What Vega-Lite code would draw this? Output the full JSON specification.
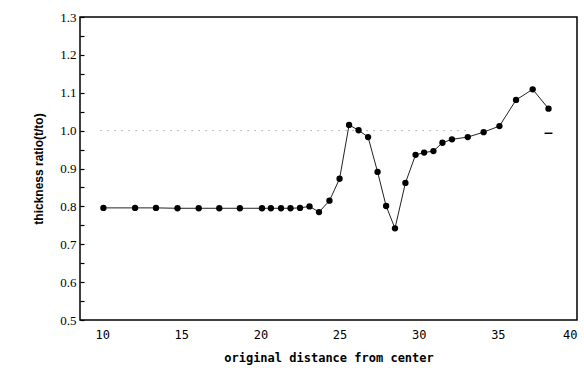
{
  "$schema": "https://vega.github.io/schema/vega-lite/v6.json",
  "width": 497,
  "height": 303,
  "autosize": {"type": "none"},
  "padding": {"left": 80, "top": 17, "right": 7, "bottom": 55},
  "background": "white",
  "config": {"view": {"stroke": "black", "strokeWidth": 1.5}},
  "datasets": {
    "pts": [
      {"x": 10.08, "y": 0.796}, {"x": 12.08, "y": 0.796}, {"x": 13.4, "y": 0.796}, {"x": 14.76, "y": 0.795},
      {"x": 16.1, "y": 0.795}, {"x": 17.4, "y": 0.795}, {"x": 18.7, "y": 0.795}, {"x": 20.1, "y": 0.795},
      {"x": 20.66, "y": 0.795}, {"x": 21.3, "y": 0.795}, {"x": 21.9, "y": 0.795}, {"x": 22.5, "y": 0.796},
      {"x": 23.1, "y": 0.80}, {"x": 23.7, "y": 0.785}, {"x": 24.36, "y": 0.815}, {"x": 25.0, "y": 0.873},
      {"x": 25.6, "y": 1.015}, {"x": 26.2, "y": 1.001}, {"x": 26.8, "y": 0.983}, {"x": 27.4, "y": 0.891},
      {"x": 27.94, "y": 0.801}, {"x": 28.5, "y": 0.742}, {"x": 29.16, "y": 0.862}, {"x": 29.8, "y": 0.936},
      {"x": 30.34, "y": 0.942}, {"x": 30.93, "y": 0.946}, {"x": 31.5, "y": 0.968}, {"x": 32.1, "y": 0.977},
      {"x": 33.1, "y": 0.983}, {"x": 34.1, "y": 0.996}, {"x": 35.1, "y": 1.012}, {"x": 36.15, "y": 1.081},
      {"x": 37.2, "y": 1.109}, {"x": 38.2, "y": 1.058}
    ],
    "ref": [{"x": 9.9, "x2": 33.0, "y": 1.0}],
    "dash": [{"x": 37.95, "x2": 38.45, "y": 0.993}]
  },
  "encoding": {
    "x": {
      "field": "x", "type": "quantitative",
      "scale": {"domain": [8.6, 40], "nice": false, "zero": false},
      "axis": {
        "title": "original distance from center",
        "titleFont": "DejaVu Sans Mono", "titleFontSize": 12, "titleFontWeight": "bold", "titleColor": "black",
        "titlePadding": 12,
        "labelFont": "DejaVu Sans Mono", "labelFontSize": 12, "labelColor": "black",
        "values": [10, 15, 20, 25, 30, 35, 40],
        "labelOverlap": false,
        "grid": false, "domain": false, "ticks": false, "labelPadding": 9
      }
    },
    "y": {
      "field": "y", "type": "quantitative",
      "scale": {"domain": [0.5, 1.3], "nice": false, "zero": false},
      "axis": {
        "title": "thickness ratio(t/to)",
        "titleFont": "Liberation Sans", "titleFontSize": 12, "titleFontWeight": "bold", "titleColor": "black",
        "titlePadding": 14,
        "labelFont": "Liberation Serif", "labelFontSize": 13, "labelColor": "black",
        "values": [0.5, 0.55, 0.6, 0.65, 0.7, 0.75, 0.8, 0.85, 0.9, 0.95, 1.0, 1.05, 1.1, 1.15, 1.2, 1.25, 1.3],
        "labelExpr": "abs(round(datum.value*10) - datum.value*10) < 0.01 ? format(datum.value, '.1f') : ''",
        "labelOverlap": false,
        "grid": false, "domain": false,
        "ticks": true, "tickSize": -4, "tickColor": "black", "tickWidth": 1.2,
        "labelPadding": 8
      }
    }
  },
  "layer": [
    {
      "data": {"name": "ref"},
      "mark": {"type": "rule", "color": "#777", "strokeWidth": 1, "strokeDash": [1, 6]},
      "encoding": {"x2": {"field": "x2"}}
    },
    {
      "data": {"name": "dash"},
      "mark": {"type": "rule", "color": "black", "strokeWidth": 1.5},
      "encoding": {"x2": {"field": "x2"}}
    },
    {
      "data": {"name": "pts"},
      "mark": {"type": "line", "color": "#222", "strokeWidth": 1},
      "encoding": {}
    },
    {
      "data": {"name": "pts"},
      "mark": {"type": "point", "filled": true, "color": "black", "opacity": 1, "size": 40, "shape": "circle"},
      "encoding": {}
    }
  ]
}
